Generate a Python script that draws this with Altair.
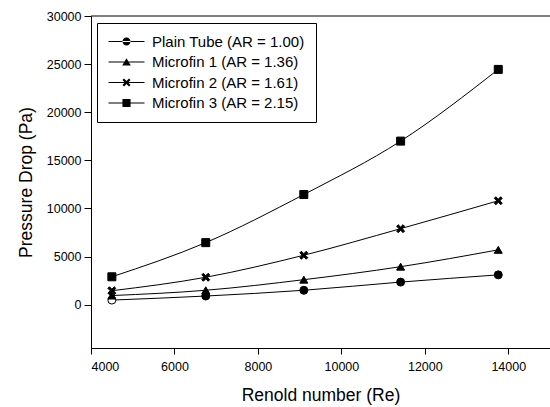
import altair as alt
import pandas as pd

re_values = [4500, 6750, 9100, 11420, 13760]
series_names = [
    "Plain Tube (AR = 1.00)",
    "Microfin 1 (AR = 1.36)",
    "Microfin 2 (AR = 1.61)",
    "Microfin 3 (AR = 2.15)",
]
plain_tube = [480, 900, 1500, 2350, 3100]
microfin_1 = [950, 1500, 2600, 3950, 5700]
microfin_2 = [1450, 2850, 5140, 7900, 10800]
microfin_3 = [2900, 6450, 11450, 17000, 24450]
plain_filled = [False, True, True, True, True]

x_ticks = [4000, 6000, 8000, 10000, 12000, 14000]
y_ticks = [0, 5000, 10000, 15000, 20000, 25000, 30000]

rows = []
all_vals = [plain_tube, microfin_1, microfin_2, microfin_3]
all_filled = [plain_filled, [True] * 5, [True] * 5, [True] * 5]
for name, vals, fl in zip(series_names, all_vals, all_filled):
    for xv, yv, f in zip(re_values, vals, fl):
        rows.append({"series": name, "re": xv, "dp": yv, "filled": "yes" if f else "no"})
df = pd.DataFrame(rows)

X_SHAPE = "M-1,-0.6L-0.6,-1L0,-0.4L0.6,-1L1,-0.6L0.4,0L1,0.6L0.6,1L0,0.4L-0.6,1L-1,0.6L-0.4,0Z"
plot_shapes = ["circle", "triangle-up", X_SHAPE, "square"]
BAR = "M-4,-0.12L4,-0.12L4,0.12L-4,0.12Z"
legend_shapes = [
    BAR + "M-0.9,0A0.9,0.9,0,1,0,0.9,0A0.9,0.9,0,1,0,-0.9,0Z",
    BAR + "M0,-0.85L0.95,0.75L-0.95,0.75Z",
    BAR + "M-0.9,-0.54L-0.54,-0.9L0,-0.36L0.54,-0.9L0.9,-0.54L0.36,0L0.9,0.54L0.54,0.9L0,0.36L-0.54,0.9L-0.9,0.54L-0.36,0Z",
    BAR + "M-0.9,-0.9L0.9,-0.9L0.9,0.9L-0.9,0.9Z",
]

x_enc = alt.X(
    "re:Q",
    scale=alt.Scale(domain=[4000, 15000], nice=False, zero=False),
    axis=alt.Axis(
        title="Renold number (Re)", values=x_ticks, format="d", tickSize=6,
        labelPadding=6, titlePadding=14,
    ),
)
y_enc = alt.Y(
    "dp:Q",
    scale=alt.Scale(domain=[-4500, 30000], nice=False, zero=False),
    axis=alt.Axis(
        title="Pressure Drop (Pa)", values=y_ticks, format="d", tickSize=7,
        labelPadding=3, titlePadding=11,
    ),
)

base = alt.Chart(df)

top_border = alt.Chart(pd.DataFrame({"a": [0]})).mark_rule(color="black", strokeWidth=1).encode(
    x=alt.X(datum=4000), x2=alt.X2(datum=15000), y=alt.Y(datum=30000)
)

lines = base.mark_line(color="black", strokeWidth=1, interpolate="monotone").encode(
    x=x_enc, y=y_enc, detail="series:N"
)

points = base.mark_point(filled=True, size=64, stroke="black", strokeWidth=1, opacity=1).encode(
    x=x_enc,
    y=y_enc,
    shape=alt.Shape("series:N", scale=alt.Scale(domain=series_names, range=plot_shapes), legend=None),
    fill=alt.Fill("filled:N", scale=alt.Scale(domain=["yes", "no"], range=["black", "white"]), legend=None),
)

legend_layer = base.mark_point(filled=True, size=81, color="black", opacity=0).encode(
    x=x_enc,
    y=y_enc,
    shape=alt.Shape(
        "series:N",
        scale=alt.Scale(domain=series_names, range=legend_shapes),
        legend=alt.Legend(
            title=None, orient="none", legendX=6, legendY=7,
            strokeColor="black", fillColor="white", padding=11,
            symbolOffset=11, labelOffset=18, labelFontSize=15, labelFont="Liberation Sans",
            labelColor="black", rowPadding=4.5, symbolSize=81, symbolOpacity=1,
            symbolFillColor="black", labelLimit=400, cornerRadius=0,
        ),
    ),
)

chart = (
    alt.layer(top_border, lines, points, legend_layer)
    .resolve_scale(shape="independent", fill="independent")
    .properties(
        width=459, height=332, autosize="none",
        padding={"left": 91, "top": 16, "right": 0, "bottom": 59},
    )
    .configure(font="Liberation Sans")
    .configure_view(stroke=None)
    .configure_axis(
        domainColor="black", tickColor="black", labelColor="black", titleColor="black",
        labelFont="Liberation Sans", titleFont="Liberation Sans", labelFontSize=12.5,
        titleFontSize=17.5, titleFontWeight="normal", grid=False, domainWidth=1, tickWidth=1,
    )
)

chart.save("out.html", embed_options={"renderer": "svg", "actions": False})
